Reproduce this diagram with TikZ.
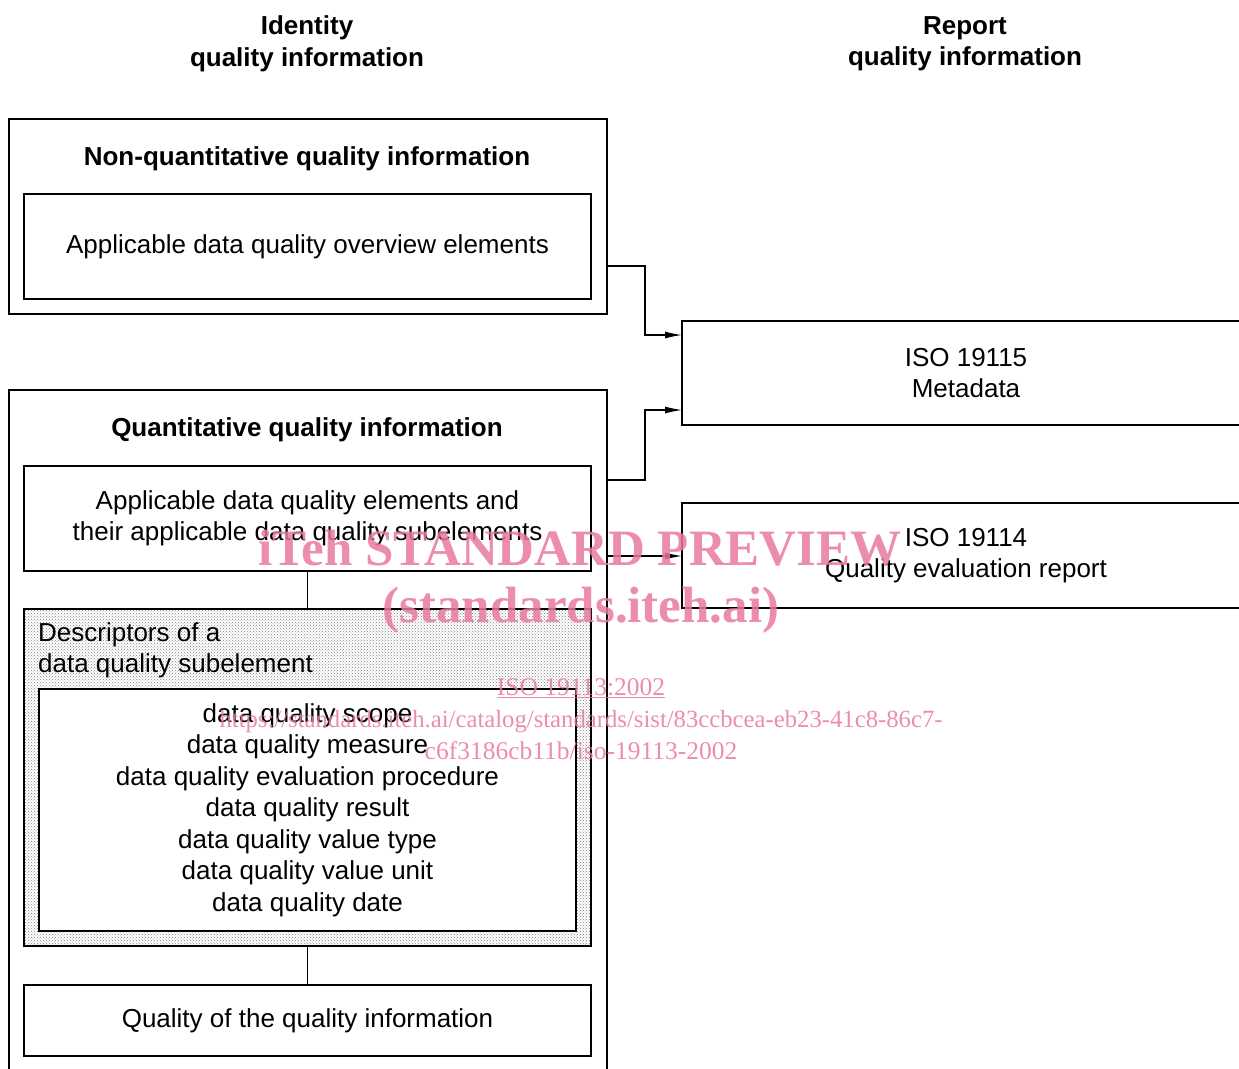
\documentclass[tikz,border=0pt]{standalone}
\usepackage{fontspec}
\setmainfont{Liberation Sans}
\newfontfamily\wmfont{Liberation Serif}
\usetikzlibrary{arrows.meta,patterns}
\definecolor{wmpink}{RGB}{233,122,157}
\tikzset{
  txt/.style={font=\fontsize{26}{31.5}\selectfont, align=center, inner sep=0pt},
  head/.style={font=\bfseries\fontsize{26}{31.5}\selectfont, align=center, inner sep=0pt},
  box/.style={draw, line width=1.2pt, anchor=north west, outer sep=0pt, inner sep=0pt,
              font=\fontsize{26}{31.5}\selectfont, align=center},
  conn/.style={line width=1.2pt, -{Latex[length=17pt,width=7pt]}},
  link/.style={line width=1.2pt},
  wm/.style={text=wmpink, opacity=0.85, inner sep=0pt, anchor=base}
}
\begin{document}
\begin{tikzpicture}[x=1pt,y=-1pt]
\clip (0,0) rectangle (1239,1068);
\fill[white] (0,0) rectangle (1239,1068);

% column headings
\node[head] (hid) at (307,44) {Identity\\quality information};
\node[head] (hrep) at (965,44) {Report\\quality information};

% non-quantitative
\node[box, minimum width=598, minimum height=195] (outer1) at (9,119) {};
\node[head] (t1) at (307,159) {Non-quantitative quality information};
\node[box, minimum width=567, minimum height=105] (ov) at (24,194) {Applicable data quality overview elements};

% quantitative
\node[box, minimum width=598, minimum height=720] (outer2) at (9,390) {};
\node[head] (t2) at (307,430) {Quantitative quality information};
\node[box, minimum width=567, minimum height=105] (el) at (24,466) {Applicable data quality elements and\\their applicable data quality subelements};
\node[box, minimum width=567, minimum height=337, pattern=crosshatch dots, pattern color=black!50] (desc) at (24,609) {};
\node[txt, align=left, anchor=north west] (dtitle) at (38,622) {Descriptors of a\\data quality subelement};
\node[box, fill=white, minimum width=537, minimum height=242] (dlist) at (39,689)
  {data quality scope\\data quality measure\\data quality evaluation procedure\\data quality result\\data quality value type\\data quality value unit\\data quality date};
\node[box, minimum width=567, minimum height=71] (qq) at (24,985) {Quality of the quality information};

% right side
\node[box, minimum width=568, minimum height=104] (iso15) at (682,321) {ISO 19115\\Metadata};
\node[box, minimum width=568, minimum height=105] (iso14) at (682,503) {ISO 19114\\Quality evaluation report};

% connectors
\draw[link] (el.south) -- (desc.north);
\draw[link] (desc.south) -- (qq.north);
\draw[conn] ([yshift=-147pt]outer1.north east) -- ++(38,0) |- ([yshift=-14pt]iso15.north west);
\draw[conn] ([yshift=-90pt]outer2.north east) -- ++(38,0) |- ([yshift=15pt]iso15.south west);
\coordinate (c3) at ([yshift=-166pt]outer2.north east);
\draw[conn] (c3) -- (c3 -| iso14.west);

% watermark
\node[wm, font=\wmfont\bfseries\fontsize{51}{60}\selectfont] (w1) at (580,565) {iTeh STANDARD PREVIEW};
\node[wm, font=\wmfont\bfseries\fontsize{51}{60}\selectfont] (w2) at (581,622) {(standards.iteh.ai)};
\node[wm, font=\wmfont\fontsize{25.5}{30}\selectfont] (w3) at (581,695) {\underline{ISO 19113:2002}};
\node[wm, font=\wmfont\fontsize{24.7}{30}\selectfont] (w4) at (581,727) {https://standards.iteh.ai/catalog/standards/sist/83ccbcea-eb23-41c8-86c7-};
\node[wm, font=\wmfont\fontsize{25.5}{30}\selectfont] (w5) at (581,759) {c6f3186cb11b/iso-19113-2002};
\end{tikzpicture}
\end{document}
